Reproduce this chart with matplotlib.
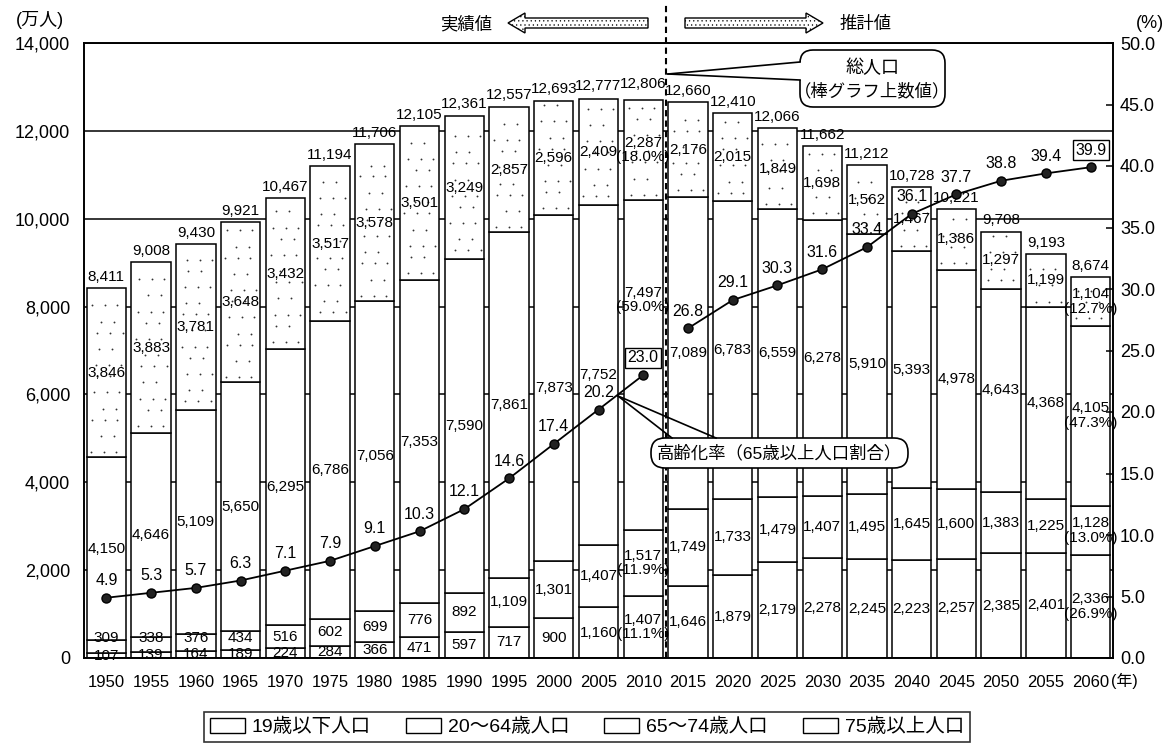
import matplotlib
matplotlib.use("Agg")
import matplotlib.pyplot as plt
from matplotlib.patches import Patch, Polygon, FancyBboxPatch
import numpy as np

plt.rcParams["font.family"] = ["Liberation Sans", "Noto Sans CJK JP"]

# ---- data (万人, %) ----
years = [1950, 1955, 1960, 1965, 1970, 1975, 1980, 1985, 1990, 1995, 2000, 2005,
         2010, 2015, 2020, 2025, 2030, 2035, 2040, 2045, 2050, 2055, 2060]
pop_75plus = [107, 139, 164, 189, 224, 284, 366, 471, 597, 717, 900, 1160,
              1407, 1646, 1879, 2179, 2278, 2245, 2223, 2257, 2385, 2401, 2336]
pop_65_74 = [309, 338, 376, 434, 516, 602, 699, 776, 892, 1109, 1301, 1407,
             1517, 1749, 1733, 1479, 1407, 1495, 1645, 1600, 1383, 1225, 1128]
pop_20_64 = [4150, 4646, 5109, 5650, 6295, 6786, 7056, 7353, 7590, 7861, 7873, 7752,
             7497, 7089, 6783, 6559, 6278, 5910, 5393, 4978, 4643, 4368, 4105]
pop_0_19 = [3846, 3883, 3781, 3648, 3432, 3517, 3578, 3501, 3249, 2857, 2596, 2409,
            2287, 2176, 2015, 1849, 1698, 1562, 1467, 1386, 1297, 1199, 1104]
pop_total = [8411, 9008, 9430, 9921, 10467, 11194, 11706, 12105, 12361, 12557, 12693, 12777,
             12806, 12660, 12410, 12066, 11662, 11212, 10728, 10221, 9708, 9193, 8674]
aging_rate = [4.9, 5.3, 5.7, 6.3, 7.1, 7.9, 9.1, 10.3, 12.1, 14.6, 17.4, 20.2,
              23.0, 26.8, 29.1, 30.3, 31.6, 33.4, 36.1, 37.7, 38.8, 39.4, 39.9]
# composition shares (%) in stack order: 75+, 65-74, 20-64, 0-19
share_2010 = [11.1, 11.9, 59.0, 18.0]
share_2060 = [26.9, 13.0, 47.3, 12.7]
first_projection_year = 2015

segment_names = ["75歳以上人口", "65～74歳人口", "20～64歳人口", "19歳以下人口"]
segments = [pop_75plus, pop_65_74, pop_20_64, pop_0_19]
shares = {2010: share_2010, 2060: share_2060}

W, H = 1166, 746
fig = plt.figure(figsize=(W / 100, H / 100), dpi=100)
ax = fig.add_axes([84 / W, 1 - 658 / H, (1113 - 84) / W, (658 - 43) / H])

x = np.arange(len(years))
bar_w = 0.88
bottoms = np.zeros(len(years))
seg_bottoms = []
for k, seg in enumerate(segments):
    seg = np.array(seg, dtype=float)
    ax.bar(x, seg, bar_w, bottom=bottoms, color="white", edgecolor="black",
           linewidth=1.1, zorder=2)
    seg_bottoms.append(bottoms.copy())
    bottoms = bottoms + seg

# light stipple texture inside the youngest band
dot_x, dot_y = [], []
col_offsets = np.array([-0.27, 0.02, 0.29])
for i in range(len(years)):
    lo = seg_bottoms[3][i] + 160
    hi = seg_bottoms[3][i] + pop_0_19[i] - 120
    for j, yy in enumerate(np.arange(lo, hi, 330)):
        jitter = ((j * 0.618 + i * 0.37) % 1.0 - 0.5) * 0.16
        cols = col_offsets[:2] + 0.13 if j % 2 else col_offsets
        for c in cols:
            dot_x.append(x[i] + c + jitter)
            dot_y.append(yy + ((j + i) % 3 - 1) * 40)
ax.scatter(dot_x, dot_y, s=1.8, color="#333333", linewidths=0, zorder=3)

ax.set_xlim(-0.5, len(years) - 0.5)
ax.set_ylim(0, 14000)
ax.set_yticks(np.arange(0, 14001, 2000))
ax.set_yticklabels([f"{v:,}" for v in range(0, 14001, 2000)], fontsize=13)
ax.set_xticks(x)
ax.set_xticklabels([str(y) for y in years], fontsize=12)
ax.tick_params(axis="y", length=0, pad=10)
ax.tick_params(axis="x", length=0, pad=12)
ax.yaxis.grid(True, color="black", linewidth=1.1)
ax.set_axisbelow(True)
for s in ax.spines.values():
    s.set_linewidth(1.2)

# value labels on the bars
lbl_fs = 11
for i, yr in enumerate(years):
    ax.annotate(f"{pop_total[i]:,}", (x[i], pop_total[i]), xytext=(0, 3),
                textcoords="offset points", ha="center", va="bottom",
                fontsize=lbl_fs, zorder=4)
    for k, seg in enumerate(segments):
        val = seg[i]
        yc = seg_bottoms[k][i] + val / 2
        if k == 1:
            yc = max(yc, 450)
        if k == 2 and yr == 2010:
            yc += 1480
        txt = f"{val:,}"
        if yr in shares:
            txt += f"\n({shares[yr][k]:.1f}%)"
        ax.text(x[i], yc, txt, ha="center", va="center", fontsize=lbl_fs,
                linespacing=1.05, zorder=4, clip_on=False)

# boundary between estimates and projections
split = years.index(first_projection_year) - 0.5
ax.axvline(split, ymin=0, ymax=(658 - 3) / 615, color="black", lw=1.5,
           ls=(0, (3, 2)), clip_on=False, zorder=5)

# aging rate on the secondary axis
ax2 = ax.twinx()
ax2.set_ylim(0, 50)
ax2.set_yticks(np.arange(0, 50.1, 5))
ax2.set_yticklabels([f"{v:.1f}" for v in np.arange(0, 50.1, 5)], fontsize=13)
ax2.tick_params(axis="y", direction="in", length=5, width=1.1, pad=5)
for s in ax2.spines.values():
    s.set_linewidth(1.2)

ns = years.index(first_projection_year)
for sl in (slice(0, ns), slice(ns, len(years))):
    ax2.plot(x[sl], aging_rate[sl], color="black", lw=1.3, marker="o",
             markersize=6.5, markerfacecolor="#222222", markeredgecolor="black",
             zorder=6)
for i, r in enumerate(aging_rate):
    boxed = (i == ns - 1) or (i == len(years) - 1)
    ax2.annotate(f"{r:.1f}", (x[i], r), xytext=(0, 7), textcoords="offset points",
                 ha="center", va="bottom", fontsize=11.5, zorder=7,
                 bbox=dict(boxstyle="square,pad=0.15", fc="white", ec="black", lw=1.0)
                 if boxed else None)

# overlay in pixel coordinates for headers and callouts
ov = fig.add_axes([0, 0, 1, 1], zorder=10)
ov.set_xlim(0, W)
ov.set_ylim(H, 0)
ov.axis("off")
ov.patch.set_alpha(0)

ov.text(40, 20, "(万人)", ha="center", va="center", fontsize=13)
ov.text(1150, 24, "(%)", ha="center", va="center", fontsize=13)
ov.text(1124, 681, "(年)", ha="center", va="center", fontsize=11.5)
ov.text(466, 24, "実績値", ha="center", va="center", fontsize=12.5)
ov.text(866, 24, "推計値", ha="center", va="center", fontsize=12.5)

yc = 23
left_arrow = [(508, yc), (525, yc - 10), (525, yc - 5), (648, yc - 5),
              (648, yc + 5), (525, yc + 5), (525, yc + 10)]
right_arrow = [(823, yc), (806, yc - 10), (806, yc - 5), (685, yc - 5),
               (685, yc + 5), (806, yc + 5), (806, yc + 10)]
plt.rcParams["hatch.linewidth"] = 0.4
plt.rcParams["hatch.color"] = "#666666"
for pts in (left_arrow, right_arrow):
    ov.add_patch(Polygon(pts, closed=True, fc="white", ec="black", lw=1.0,
                         hatch="...."))

# callout: total population
ov.add_patch(FancyBboxPatch((800, 50), 145, 57,
                            boxstyle="round,pad=0,rounding_size=13",
                            fc="white", ec="black", lw=1.2))
ov.add_patch(Polygon([(668, 74), (803, 62), (803, 80)], closed=True,
                     fc="white", ec="none"))
ov.plot([668, 800], [74, 62], color="black", lw=1.2)
ov.plot([668, 800], [74, 80], color="black", lw=1.2)
ov.text(872, 68, "総人口", ha="center", va="center", fontsize=13)
ov.text(872, 91, "（棒グラフ上数値）", ha="center", va="center", fontsize=12.5)

# callout: aging rate
ov.add_patch(FancyBboxPatch((651, 438), 257, 30,
                            boxstyle="round,pad=0,rounding_size=14",
                            fc="white", ec="black", lw=1.2))
ov.plot([618, 672], [396, 438], color="black", lw=1.2)
ov.plot([618, 716], [396, 438], color="black", lw=1.2)
ov.text(779, 453, "高齢化率（65歳以上人口割合）", ha="center", va="center",
        fontsize=12.5)

# legend
handles = [Patch(fc="white", ec="black", lw=1.0) for _ in segment_names]
leg = fig.legend(handles, segment_names[::-1], loc="center",
                 bbox_to_anchor=(587 / W, 1 - 727 / H), ncol=4, frameon=True,
                 fancybox=False, edgecolor="black", fontsize=14,
                 handlelength=1.8, handleheight=0.8, handletextpad=0.35,
                 columnspacing=1.8, borderpad=0.3, borderaxespad=0)
leg.get_frame().set_linewidth(1.2)

fig.savefig("out.png", dpi=100)
